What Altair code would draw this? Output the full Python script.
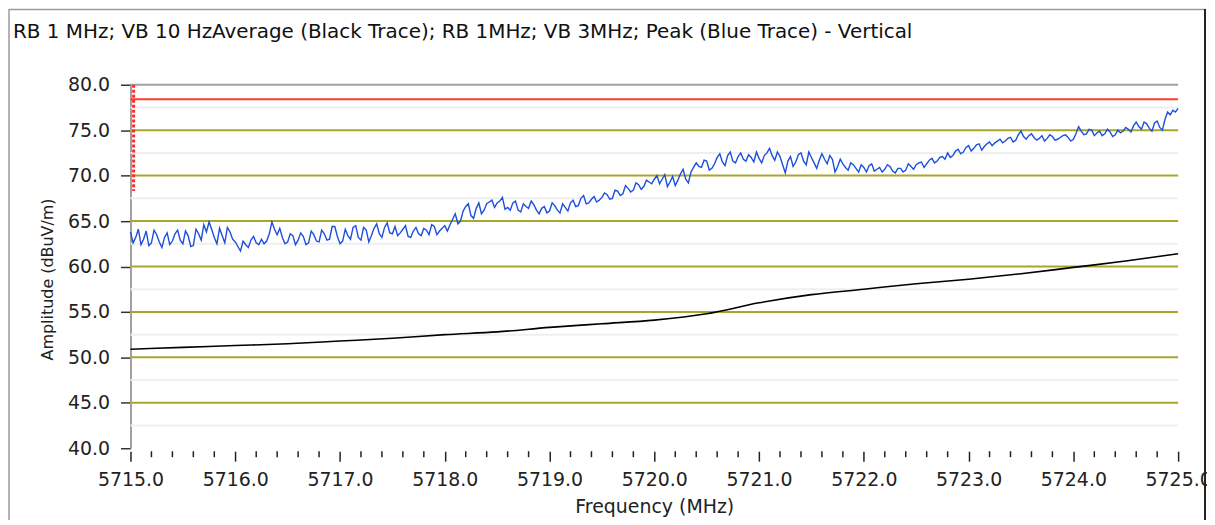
import altair as alt
import pandas as pd

TITLE = "RB 1 MHz; VB 10 HzAverage (Black Trace); RB 1MHz; VB 3MHz; Peak (Blue Trace) - Vertical"

# Blue trace (peak), read every 0.05 MHz from 5715.0 to 5725.0
BLUE = [
    63.8, 63.2, 62.4, 63.9, 62.6, 63.5, 62.1, 63.7, 62.8, 64.0, 62.5, 63.4, 62.3, 63.6,
    64.6, 64.9,
    63.2, 64.2, 62.6, 63.8, 62.7,
    61.7, 62.4, 62.9, 62.6, 63.0, 62.8,
    64.9, 63.5,
    63.2, 62.7, 63.4, 62.9, 63.3, 62.6, 63.5, 62.7, 63.6,
    63.0, 64.4, 62.5, 64.1, 63.0, 64.5, 62.9, 64.0, 63.4, 64.7, 63.2, 64.8, 63.6,
    63.4, 64.1, 63.3, 63.9, 63.6, 64.2, 63.5, 64.4, 63.9, 64.5,
    64.6, 65.8, 65.0, 66.6,
    65.6, 66.4, 65.8, 66.9,
    67.3, 67.0, 67.6,
    66.5, 67.0, 66.2, 66.9, 66.4, 66.8, 65.8, 66.6, 66.1, 66.7, 65.9, 66.5,
    67.0, 66.6, 67.5, 66.9, 67.4, 67.1,
    67.6, 67.9, 67.5, 68.3, 68.0, 68.6, 68.4, 69.0, 68.8, 69.3,
    69.6, 69.1, 70.1, 69.3, 68.9, 70.2, 69.6, 70.4,
    71.4, 70.9, 71.6, 70.8,
    72.0, 71.5, 72.2, 71.6, 72.1, 71.8, 72.3, 71.5, 71.9, 72.2, 73.0, 71.7, 72.1, 70.3,
    72.1, 71.5, 72.5, 71.2, 72.0, 70.8, 72.4, 71.3, 71.8, 71.0,
    71.3, 70.6, 71.2, 70.4, 70.9, 71.1, 70.5, 70.9, 70.7, 71.0, 70.3, 70.8, 70.6, 71.0, 71.2, 71.5,
    71.3, 71.9, 71.6, 72.1, 72.5, 72.2,
    72.9, 72.6, 73.3, 73.0, 73.5, 73.2, 73.7,
    73.6, 74.0, 73.8, 74.2, 73.9,
    74.9, 74.0, 74.6, 73.9, 74.4,
    74.1, 74.3, 74.0, 74.4, 74.2, 74.0,
    75.4, 74.5, 75.1, 74.4, 74.9, 74.6, 74.8, 74.5, 74.7,
    75.3, 74.8, 75.9, 75.1, 75.7, 74.9, 76.0,
    75.0, 77.0, 77.2, 77.4,
]
# Blue trace read half-way between the readings above (5715.025, 5715.075, ...)
BLUE_MID = [
    62.6, 64.1, 63.0, 62.3, 64.0, 62.7, 63.2, 62.4, 63.6, 62.9,
    63.9, 62.2, 64.1, 62.9, 63.8, 64.1, 62.5, 63.4, 64.3, 63.0,
    62.2, 62.8, 62.1, 63.3, 62.4, 62.5, 63.6, 64.1, 64.2, 62.5,
    63.6, 62.4, 63.7, 62.4, 63.9, 62.8, 64.0, 62.9, 64.4, 63.3,
    62.8, 63.4, 64.3, 63.2, 64.3, 62.7, 64.2, 63.6, 64.3, 63.7,
    64.4, 63.7, 64.5, 63.2, 64.3, 63.4, 64.0, 64.6, 63.5, 64.2,
    63.9, 65.2, 64.7, 66.1, 66.9, 65.3, 67.0, 66.2, 67.1, 66.5,
    67.2, 66.3, 66.2, 67.2, 66.0, 66.6, 67.2, 66.2, 66.4, 65.9,
    67.0, 66.2, 66.9, 66.1, 67.3, 66.7, 67.8, 67.0, 67.7, 67.3,
    68.1, 67.4, 68.4, 67.8, 68.9, 68.2, 69.2, 68.5, 69.5, 69.1,
    70.0, 69.6, 68.8, 69.9, 69.5, 70.7, 69.2, 70.9, 71.0, 71.7,
    70.6, 71.3, 72.4, 71.1, 72.6, 71.4, 72.5, 71.6, 72.0, 72.6,
    71.4, 72.5, 72.2, 72.6, 71.2, 71.6, 71.0, 72.3, 71.6, 72.6,
    71.4, 71.7, 71.8, 72.2, 70.4, 71.8, 70.9, 71.4, 70.8, 71.2,
    70.4, 71.3, 70.7, 70.4, 71.2, 70.5, 70.8, 70.4, 71.3, 70.7,
    71.4, 70.9, 71.7, 71.4, 72.0, 71.8, 72.0, 72.7, 72.4, 73.1,
    72.7, 73.4, 72.8, 73.5, 73.3, 73.8, 73.6, 74.1, 73.7, 74.5,
    74.3, 74.4, 74.2, 74.1, 73.8, 74.5, 73.9, 74.2, 74.5, 73.8,
    74.6, 74.9, 74.6, 75.0, 74.7, 74.4, 75.1, 74.3, 75.0, 74.9,
    75.1, 75.5, 75.4, 75.9, 75.2, 75.8, 75.3, 76.2, 76.7, 77.0,
]
BLUE_STEP = 0.05
F_START = 5715.0
F_END = 5725.0

# Black trace (average)
BLACK_FREQ = [5715.0, 5715.5, 5716.0, 5716.5, 5717.0, 5717.5, 5718.0, 5718.5, 5719.0, 5719.5,
              5720.0, 5720.5, 5721.0, 5721.5, 5722.0, 5722.5, 5723.0, 5723.5, 5724.0, 5724.5, 5725.0]
BLACK = [50.9, 51.1, 51.3, 51.5, 51.8, 52.1, 52.5, 52.8, 53.3, 53.7,
         54.1, 54.8, 56.0, 56.9, 57.5, 58.1, 58.6, 59.2, 59.9, 60.6, 61.4]

LIMIT = [78.4]
MARKER_F = [5715.03]
MARKER_TOP = [80.0]
MARKER_BOTTOM = [68.3]

MAJOR_GRID = [45, 50, 55, 60, 65, 70, 75]
MINOR_GRID = [42.5, 47.5, 52.5, 57.5, 62.5, 67.5, 72.5, 77.5]
TOP_LINE = [80]
Y_TICKS = [40, 45, 50, 55, 60, 65, 70, 75, 80]
X_MAJOR = [5715, 5716, 5717, 5718, 5719, 5720, 5721, 5722, 5723, 5724, 5725]
X_MINOR = [round(5715.0 + 0.2 * i, 1) for i in range(51) if i % 5 != 0]

FONT = "DejaVu Sans"

blue_df = pd.DataFrame({
    "f": [round(F_START + BLUE_STEP * i, 3) for i in range(len(BLUE))]
    + [round(F_START + BLUE_STEP * i + BLUE_STEP / 2, 3) for i in range(len(BLUE_MID))],
    "v": BLUE + BLUE_MID,
}).sort_values("f")
black_df = pd.DataFrame({"f": BLACK_FREQ, "v": BLACK})

xs = alt.Scale(domain=[F_START, F_END], nice=False, zero=False)
ys = alt.Scale(domain=[40, 80], nice=False, zero=False)

x_axis = alt.Axis(
    values=X_MAJOR,
    format=".1f",
    labelOverlap=False,
    labelFlush=False,
    labelBound=False,
    labelFontSize=19,
    labelPadding=9,
    tickSize=10,
    tickColor="#222",
    tickWidth=1.5,
    domain=False,
    grid=False,
    offset=3,
    title="Frequency (MHz)",
    titleFontSize=19,
    titlePadding=9,
)
y_axis = alt.Axis(
    values=Y_TICKS,
    format=".1f",
    labelFontSize=19,
    labelPadding=11,
    tickSize=10,
    tickColor="#333",
    tickWidth=1.5,
    domainColor="#a0a0a0",
    domainWidth=2,
    grid=False,
    title="Amplitude (dBuV/m)",
    titleFontSize=16,
    titlePadding=12,
    titleY=195,
)

def X(field):
    return alt.X(field, scale=xs, axis=x_axis)

def Y(field):
    return alt.Y(field, scale=ys, axis=y_axis)

minor = alt.Chart(pd.DataFrame({"y": MINOR_GRID})).mark_rule(color="#efefef", strokeWidth=2).encode(
    y=Y("y:Q")
)
major = alt.Chart(pd.DataFrame({"y": MAJOR_GRID})).mark_rule(color="#aaa62a", strokeWidth=2).encode(
    y=Y("y:Q")
)
top = alt.Chart(pd.DataFrame({"y": TOP_LINE})).mark_rule(color="#a0a0a0", strokeWidth=2).encode(
    y=Y("y:Q")
)
minor_ticks = alt.Chart(pd.DataFrame({"f": X_MINOR})).mark_rule(color="#222222", strokeWidth=1.5).encode(
    x=X("f:Q"), y=alt.value(368), y2=alt.value(374)
)
black = alt.Chart(black_df).mark_line(color="#000000", strokeWidth=1.6, interpolate="monotone").encode(
    x=X("f:Q"), y=Y("v:Q")
)
blue = alt.Chart(blue_df).mark_line(color="#1c4fdc", strokeWidth=1.4).encode(
    x=X("f:Q"), y=Y("v:Q")
)
limit = alt.Chart(pd.DataFrame({"y": LIMIT})).mark_rule(color="#ff3b30", strokeWidth=2).encode(
    y=Y("y:Q")
)
marker = alt.Chart(pd.DataFrame({"f": MARKER_F, "a": MARKER_TOP, "b": MARKER_BOTTOM})).mark_rule(
    color="#ff2a2a", strokeWidth=3, strokeDash=[3, 2]
).encode(
    x=X("f:Q"), y=Y("a:Q"), y2="b:Q"
)

one = pd.DataFrame({"k": [0]})
frame_left = alt.Chart(one).mark_rule(color="#9a9a9a", strokeWidth=1.5).encode(
    x=alt.value(-122), y=alt.value(-76), y2=alt.value(500)
)
frame_top = alt.Chart(one).mark_rule(color="#9a9a9a", strokeWidth=1.5).encode(
    x=alt.value(-122), x2=alt.value(1080), y=alt.value(-75.5)
)
frame_right = alt.Chart(one).mark_rule(color="#222222", strokeWidth=2).encode(
    x=alt.value(1079), y=alt.value(-76), y2=alt.value(500)
)
title = alt.Chart(one).mark_text(
    align="left", baseline="alphabetic", font=FONT, fontSize=20, color="#111111"
).encode(x=alt.value(-118), y=alt.value(-47), text=alt.value(TITLE))

chart = alt.layer(
    minor, major, top, minor_ticks, black, blue, limit, marker,
    frame_left, frame_top, frame_right, title
).properties(
    width=1052,
    height=365,
    padding={"left": 123, "top": 76, "right": 29, "bottom": 71},
    autosize=alt.AutoSizeParams(type="none"),
).configure_axis(
    labelFont=FONT,
    titleFont=FONT,
    labelColor="#222222",
    titleColor="#222222",
    titleFontWeight="normal",
).configure_view(strokeWidth=0)

chart.save("out.html", embed_options={"renderer": "svg", "actions": False})
